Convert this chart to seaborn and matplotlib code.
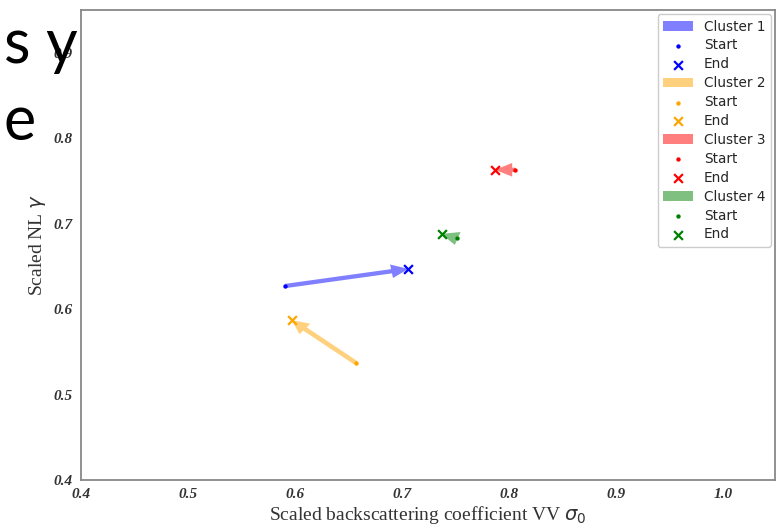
import matplotlib
matplotlib.use("Agg")
import matplotlib.pyplot as plt
import seaborn as sns

# Cluster centroid trajectories: (sigma0, gamma) at start and end
clusters = ["Cluster 1", "Cluster 2", "Cluster 3", "Cluster 4"]
colors = ["blue", "orange", "red", "green"]
start_sigma = [0.591, 0.657, 0.806, 0.751]
start_gamma = [0.627, 0.537, 0.763, 0.683]
end_sigma = [0.706, 0.597, 0.787, 0.737]
end_gamma = [0.647, 0.587, 0.763, 0.688]

x_ticks = [0.4, 0.5, 0.6, 0.7, 0.8, 0.9, 1.0]
y_ticks = [0.4, 0.5, 0.6, 0.7, 0.8, 0.9]

sns.set_style("white")
plt.rcParams["font.family"] = ["DejaVu Sans"]

fig = plt.figure(figsize=(7.78, 5.26), dpi=100)
ax = fig.add_axes([0.1041, 0.0875, 0.892, 0.8935])

for name, c, xs, ys, xe, ye in zip(clusters, colors, start_sigma, start_gamma,
                                   end_sigma, end_gamma):
    ax.arrow(xs, ys, xe - xs, ye - ys, width=0.005, head_width=0.016,
             head_length=0.016, length_includes_head=True, color=c,
             alpha=0.5, lw=0, label=name)
    sns.scatterplot(x=[xs], y=[ys], color=c, marker="o", s=10, linewidth=0,
                    ax=ax, label="Start", legend=False, zorder=3)
    sns.scatterplot(x=[xe], y=[ye], color=c, marker="x", s=40, linewidth=1.6,
                    ax=ax, label="End", legend=False, zorder=3)

ax.set_xlim(0.4, 1.0486)
ax.set_ylim(0.4, 0.95)

serif = dict(family="Liberation Serif", style="italic", weight="bold", size=11)
ax.set_xticks(x_ticks)
ax.set_xticklabels([f"{v:.1f}" for v in x_ticks], fontdict=serif)
ax.set_yticks(y_ticks)
ax.set_yticklabels([f"{v:.1f}" for v in y_ticks], fontdict=serif)
ax.tick_params(direction="out", length=3, width=1, color="#888888",
               labelcolor="#333333", pad=3)

for sp in ax.spines.values():
    sp.set_color("#888888")
    sp.set_linewidth(1.3)

ax.set_xlabel(r"Scaled backscattering coefficient VV $\sigma_0$",
              family="Liberation Serif", size=14, color="#333333", labelpad=2)
ax.set_ylabel(r"Scaled NL $\gamma$", family="Liberation Serif", size=14,
              color="#333333", labelpad=4)

handles, labels = ax.get_legend_handles_labels()
ax.legend(handles, labels, loc="upper right", fontsize=9.8, borderaxespad=0.3,
          frameon=True, fancybox=True, edgecolor="#cccccc", framealpha=1,
          handlelength=2.2, labelspacing=0.36)

# Slide text running over the figure
fig.text(78 / 778, 1 - 63 / 526, "ns y", ha="right", va="baseline",
         fontsize=44, family="Lato", color="black", zorder=10)
fig.text(4 / 778, 1 - 140 / 526, "e", ha="left", va="baseline",
         fontsize=44, family="Lato", color="black", zorder=10)

fig.savefig("out.png", dpi=100)
